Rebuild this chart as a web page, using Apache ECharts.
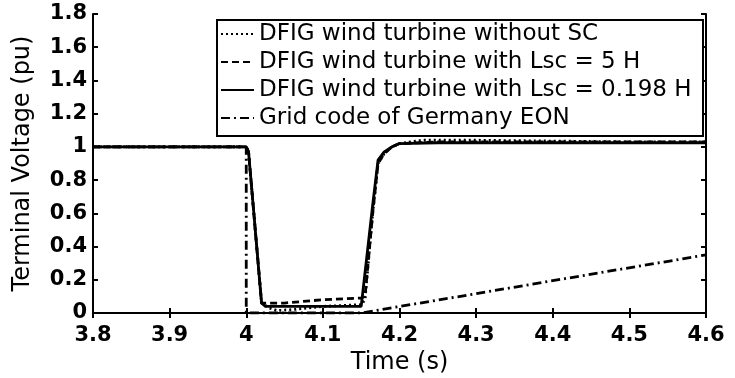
<!DOCTYPE html>
<html>
<head>
<meta charset="utf-8">
<script src="https://cdn.jsdelivr.net/npm/echarts@6/dist/echarts.min.js"></script>
<style>
  html, body { margin: 0; padding: 0; background: #fff; }
  #chart { width: 735px; height: 378px; }
</style>
</head>
<body>
<div id="chart"></div>
<script>
// Axis ticks
const xTicks = [3.8, 3.9, 4.0, 4.1, 4.2, 4.3, 4.4, 4.5, 4.6];
const yTicks = [0, 0.2, 0.4, 0.6, 0.8, 1, 1.2, 1.4, 1.6, 1.8];

// Series names
const names = [
  'DFIG wind turbine without SC',
  'DFIG wind turbine with Lsc = 5 H',
  'DFIG wind turbine with Lsc = 0.198 H',
  'Grid code of Germany EON'
];

// DFIG without superconducting coil
const tNoSC = [3.8, 4.0, 4.003, 4.02, 4.03, 4.04, 4.06, 4.1, 4.15, 4.155, 4.165, 4.172, 4.18, 4.19, 4.2, 4.23, 4.3, 4.4, 4.5, 4.6];
const vNoSC = [1, 1, 0.97, 0.06, 0.03, 0.015, 0.02, 0.04, 0.05, 0.08, 0.6, 0.9, 0.96, 1.0, 1.02, 1.04, 1.04, 1.035, 1.03, 1.03];

// Lsc = 5 H
const tL5 = [3.8, 4.0, 4.003, 4.02, 4.05, 4.1, 4.15, 4.155, 4.165, 4.172, 4.18, 4.19, 4.2, 4.25, 4.6];
const vL5 = [1, 1, 0.97, 0.06, 0.06, 0.08, 0.09, 0.1, 0.6, 0.9, 0.96, 1.0, 1.02, 1.03, 1.03];

// Lsc = 0.198 H
const tL0198 = [3.8, 4.0, 4.003, 4.02, 4.025, 4.1, 4.15, 4.152, 4.165, 4.172, 4.18, 4.19, 4.2, 4.25, 4.6];
const vL0198 = [1, 1, 0.97, 0.06, 0.04, 0.04, 0.04, 0.05, 0.65, 0.92, 0.97, 1.0, 1.02, 1.025, 1.025];

// E.ON grid code limit
const tGrid = [3.8, 4.0, 4.0, 4.15, 4.6];
const vGrid = [1, 1, 0, 0, 0.35];

const pairs = (t, v) => t.map((x, i) => [x, v[i]]);

const FONT = 'DejaVu Sans';
const fmtX = v => String(+(+v).toFixed(1));
const fmtY = v => String(+(+v).toFixed(1));

const baseAxis = {
  axisLine: { show: true, lineStyle: { color: '#000', width: 2 } },
  axisTick: { show: true, inside: true, length: 5, lineStyle: { color: '#000', width: 2 } },
  splitLine: { show: false }
};

const lineSeries = (name, data, type) => ({
  name,
  type: 'line',
  data,
  symbol: 'none',
  animation: false,
  lineStyle: { color: '#000', width: 2.8, type },
  itemStyle: { color: '#000' }
});

const chart = echarts.init(document.getElementById('chart'), null, { renderer: 'canvas' });
chart.setOption({
  backgroundColor: '#fff',
  animation: false,
  grid: { left: 93, right: 29, top: 14, bottom: 65, containLabel: false, outerBoundsMode: 'none' },
  legend: {
    orient: 'vertical',
    left: 217,
    top: 20,
    padding: [1, 6, 5, 3],
    itemGap: 2,
    itemWidth: 33,
    itemHeight: 2,
    backgroundColor: '#fff',
    borderColor: '#000',
    borderWidth: 2,
    borderRadius: 0,
    itemStyle: { opacity: 0 },
    textStyle: { fontFamily: FONT, fontSize: 23, color: '#000', lineHeight: 26, width: 438, overflow: 'none' },
    data: names
  },
  xAxis: [
    Object.assign({}, baseAxis, {
      type: 'value', position: 'bottom',
      min: xTicks[0], max: xTicks[xTicks.length - 1], interval: 0.1,
      name: 'Time (s)', nameLocation: 'middle', nameGap: 33,
      nameTextStyle: { fontFamily: FONT, fontSize: 24, color: '#000' },
      axisLabel: { margin: 12, color: '#000', fontFamily: FONT, fontSize: 21, fontWeight: 'bold', formatter: fmtX }
    }),
    Object.assign({}, baseAxis, {
      type: 'value', position: 'top',
      min: xTicks[0], max: xTicks[xTicks.length - 1], interval: 0.1,
      axisLabel: { show: false }
    })
  ],
  yAxis: [
    Object.assign({}, baseAxis, {
      type: 'value', position: 'left',
      min: yTicks[0], max: yTicks[yTicks.length - 1], interval: 0.2,
      name: 'Terminal Voltage (pu)', nameLocation: 'middle', nameGap: 58,
      nameTextStyle: { fontFamily: FONT, fontSize: 24, color: '#000' },
      axisLabel: { margin: 6, color: '#000', fontFamily: FONT, fontSize: 21, fontWeight: 'bold', formatter: fmtY }
    }),
    Object.assign({}, baseAxis, {
      type: 'value', position: 'right',
      min: yTicks[0], max: yTicks[yTicks.length - 1], interval: 0.2,
      axisLabel: { show: false }
    })
  ],
  series: [
    lineSeries(names[0], pairs(tNoSC, vNoSC), [2, 3]),
    lineSeries(names[1], pairs(tL5, vL5), [7, 4]),
    lineSeries(names[2], pairs(tL0198, vL0198), 'solid'),
    lineSeries(names[3], pairs(tGrid, vGrid), [9, 4, 2, 4])
  ]
});
</script>
</body>
</html>
